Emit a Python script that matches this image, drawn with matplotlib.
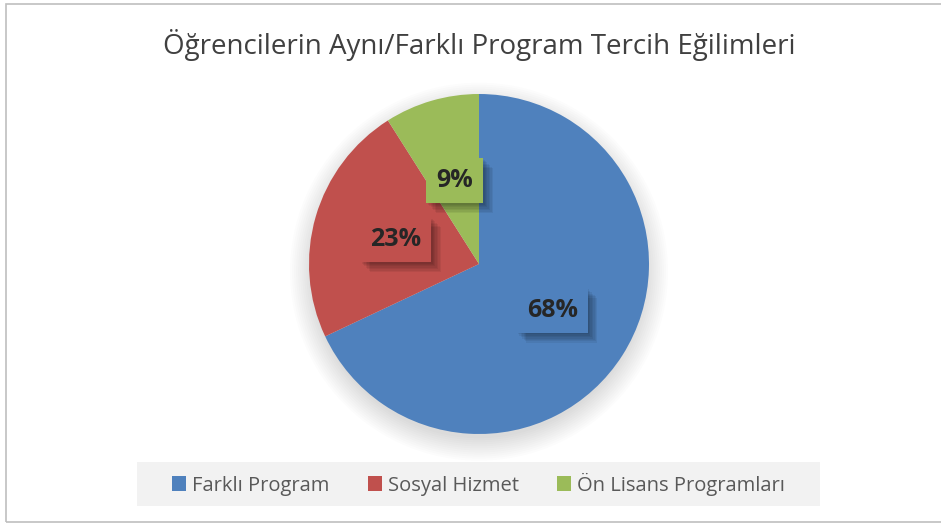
import matplotlib.pyplot as plt
import matplotlib.patheffects as pe
from matplotlib.patches import Rectangle, Circle

# Data
categories = ["Farklı Program", "Sosyal Hizmet", "Ön Lisans Programları"]
values = [68, 23, 9]
colors = ["#4F81BD", "#C0504D", "#9BBB59"]
title = "Öğrencilerin Aynı/Farklı Program Tercih Eğilimleri"

W, H = 941, 524
fig = plt.figure(figsize=(W / 100, H / 100), dpi=100)
fig.patch.set_facecolor("white")

# chart border
fig.patches.append(Rectangle((6 / W, 2 / H), (W + 10) / W, (520 - 2) / H,
                             transform=fig.transFigure, fill=False,
                             edgecolor="#BFBFBF", linewidth=1.2))

fig.text(479 / W, 1 - 45 / H, title, ha="center", va="center",
         fontsize=20, color="#404040", family="Open Sans")

cx, cy, r = 479, 264, 170
ax = fig.add_axes([(cx - r) / W, (H - cy - r) / H, 2 * r / W, 2 * r / H])
ax.set_xlim(-1, 1)
ax.set_ylim(-1, 1)
ax.axis("off")

# soft shadow under the pie
for i in range(12):
    ax.add_patch(Circle((0, -0.045), 0.98 + 0.012 * i, facecolor="black",
                        edgecolor="none", alpha=0.012, clip_on=False, zorder=0))

wedges, texts, autotexts = ax.pie(values, colors=colors, startangle=90,
                                  counterclock=False, radius=1,
                                  autopct="%1.0f%%", pctdistance=0.51,
                                  wedgeprops=dict(linewidth=0, zorder=1),
                                  textprops=dict(fontsize=18, fontweight="bold",
                                                 color="#262626", family="Open Sans"))
ax.set_xlim(-1, 1)
ax.set_ylim(-1, 1)

# blurred drop shadow for the label boxes
shadow = [pe.SimplePatchShadow(offset=(k, -k), shadow_rgbFace="black", alpha=0.06)
          for k in range(1, 8)]
for t, c in zip(autotexts, colors):
    t.set_zorder(5)
    t.set_bbox(dict(boxstyle="square,pad=0.4", facecolor=c, edgecolor="none"))
    t.get_bbox_patch().set_path_effects(shadow + [pe.Normal()])

# legend
lax = fig.add_axes([137 / W, (H - 506) / H, (820 - 137) / W, 44 / H])
lax.set_facecolor("#F2F2F2")
for s in lax.spines.values():
    s.set_visible(False)
lax.set_xticks([])
lax.set_yticks([])
handles = [Rectangle((0, 0), 1, 1, facecolor=c, edgecolor="none") for c in colors]
leg = lax.legend(handles, categories, loc="center", ncol=3, frameon=False,
                 handlelength=0.7, handleheight=0.7,
                 handletextpad=0.3, columnspacing=1.9,
                 prop=dict(family="Open Sans", size=14.5))
for t in leg.get_texts():
    t.set_color("#595959")

fig.savefig("out.png", dpi=100)
